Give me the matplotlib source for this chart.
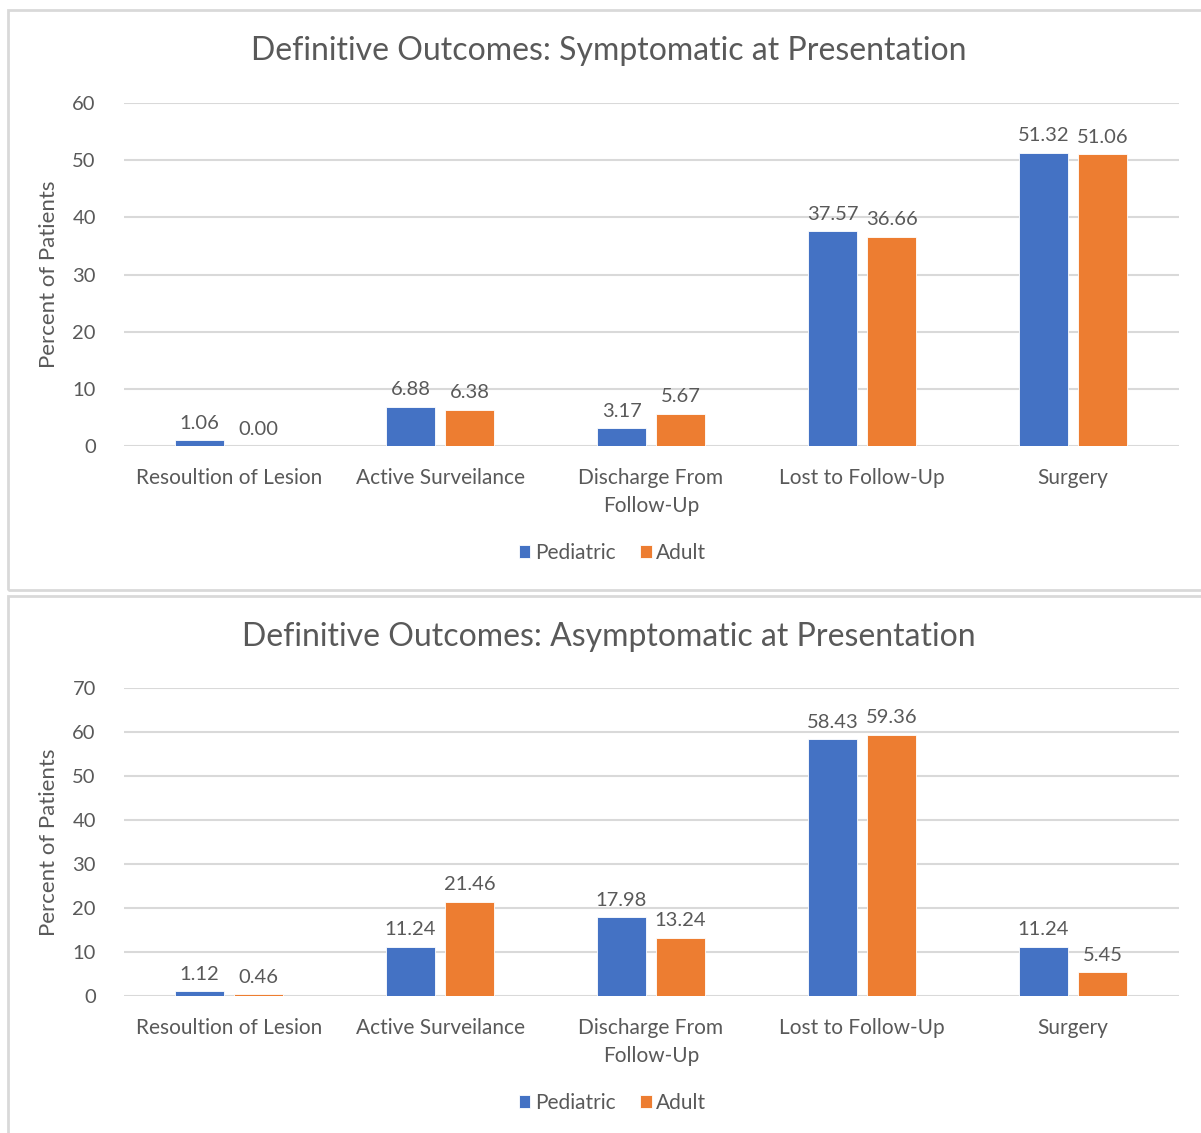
import numpy as np
import matplotlib.pyplot as plt
from matplotlib.patches import Rectangle

# data
categories = ['Resoultion of Lesion', 'Active Surveilance', 'Discharge From\nFollow-Up',
              'Lost to Follow-Up', 'Surgery']
sympt_pediatric = [1.06, 6.88, 3.17, 37.57, 51.32]
sympt_adult = [0.00, 6.38, 5.67, 36.66, 51.06]
asympt_pediatric = [1.12, 11.24, 17.98, 58.43, 11.24]
asympt_adult = [0.46, 21.46, 13.24, 59.36, 5.45]

BLUE = '#4472C4'
ORANGE = '#ED7D31'
TEXT = '#595959'
GRID = '#D9D9D9'

plt.rcParams['font.family'] = ['Lato', 'DejaVu Sans']


def draw_panel(fig, rect, title, title_y, legend_y, ped, adu, ymax):
    ax = fig.add_axes(rect)
    x = np.arange(len(categories))
    w = 0.23
    off = 0.14
    b1 = ax.bar(x - off, ped, w, color=BLUE, edgecolor='white', linewidth=0.6, label='Pediatric', zorder=3)
    b2 = ax.bar(x + off, adu, w, color=ORANGE, edgecolor='white', linewidth=0.6, label='Adult', zorder=3)
    ax.bar_label(b1, fmt='%.2f', padding=6, fontsize=14.5, color=TEXT)
    ax.bar_label(b2, fmt='%.2f', padding=6, fontsize=14.5, color=TEXT)

    ax.set_xlim(-0.5, len(categories) - 0.5)
    ax.set_ylim(0, ymax)
    ax.set_yticks(np.arange(0, ymax + 1, 10))
    ax.set_xticks(x)
    ax.set_xticklabels(categories, fontsize=15, color=TEXT, linespacing=1.5)
    ax.tick_params(axis='y', labelsize=14.5, labelcolor=TEXT, length=0, pad=20)
    ax.tick_params(axis='x', length=0, pad=16)
    ax.grid(axis='y', color=GRID, linewidth=1.5, zorder=0)
    for s in ax.spines.values():
        s.set_visible(False)
    ax.set_ylabel('Percent of Patients', fontsize=16, color=TEXT)
    ax.yaxis.set_label_coords(-0.061, 0.5)

    fig.text(0.507, title_y, title, ha='center', va='center', fontsize=23, color=TEXT)
    fig.legend(handles=[b1, b2], loc='center', bbox_to_anchor=(0.51, legend_y), ncol=2,
               frameon=False, fontsize=15, labelcolor=TEXT, handlelength=0.55,
               handleheight=0.55, handletextpad=0.2, columnspacing=1.2)
    return ax


fig = plt.figure(figsize=(12.01, 11.33), dpi=100)

# chart frames
H = 1133.0
fig.patches.append(Rectangle((8 / 1201, 1 - 590 / H), 1.0, 580 / H, transform=fig.transFigure,
                             fill=False, edgecolor=GRID, linewidth=2))
fig.patches.append(Rectangle((8 / 1201, 1 - 1140 / H), 1.0, 544 / H, transform=fig.transFigure,
                             fill=False, edgecolor=GRID, linewidth=2))

draw_panel(fig, [0.1029, 0.6063, 0.8784, 0.3027], 'Definitive Outcomes: Symptomatic at Presentation',
           0.955, 0.5119, sympt_pediatric, sympt_adult, 60)
draw_panel(fig, [0.1029, 0.1209, 0.8784, 0.2719], 'Definitive Outcomes: Asymptomatic at Presentation',
           0.4378, 0.0265, asympt_pediatric, asympt_adult, 70)

fig.savefig('out.png', dpi=100)
